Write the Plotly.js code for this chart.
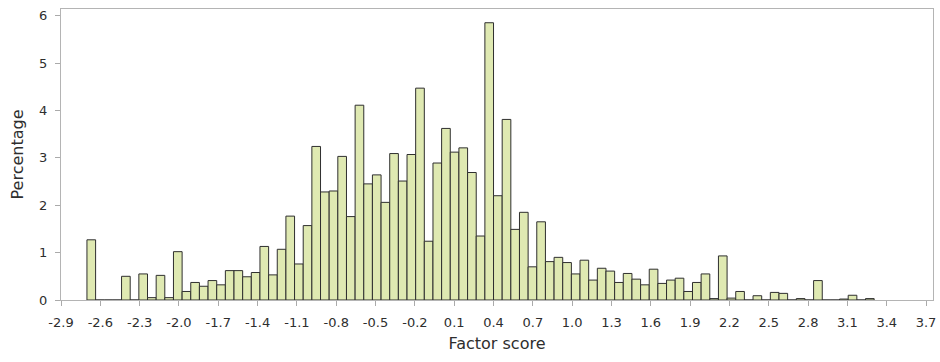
<!DOCTYPE html>
<html>
<head>
<meta charset="utf-8">
<script src="https://cdn.plot.ly/plotly-3.0.1.min.js"></script>
<style>html,body{margin:0;padding:0;background:#fff;}#chart{width:940px;height:362px;}</style>
</head>
<body>
<div id="chart"></div>
<script>
// Bin midpoints (factor score)
const binMid = [
 -2.669,-2.603,-2.537,-2.471,-2.405,-2.339,-2.273,-2.207,-2.141,-2.075,
 -2.009,-1.943,-1.877,-1.811,-1.745,-1.679,-1.613,-1.547,-1.481,-1.415,
 -1.349,-1.283,-1.217,-1.151,-1.085,-1.019,-0.953,-0.887,-0.821,-0.755,
 -0.689,-0.623,-0.557,-0.491,-0.425,-0.359,-0.293,-0.227,-0.161,-0.095,
 -0.029,0.037,0.103,0.169,0.235,0.301,0.367,0.433,0.499,0.565,
 0.631,0.697,0.763,0.829,0.895,0.961,1.027,1.093,1.159,1.225,
 1.291,1.357,1.423,1.489,1.555,1.621,1.687,1.753,1.819,1.885,
 1.951,2.017,2.083,2.149,2.215,2.281,2.347,2.413,2.479,2.545,
 2.611,2.677,2.743,2.809,2.875,2.941,3.007,3.073,3.139,3.205,
 3.271
];
// Percentage per bin
const percentage = [
 1.27,0,0,0,0.50,0,0.55,0.05,0.52,0.05,
 1.02,0.18,0.37,0.29,0.41,0.32,0.62,0.62,0.49,0.58,
 1.13,0.53,1.07,1.77,0.76,1.57,3.24,2.28,2.30,3.03,
 1.76,4.11,2.45,2.64,2.06,3.09,2.51,3.07,4.47,1.24,
 2.89,3.62,3.12,3.21,2.69,1.35,5.85,2.20,3.81,1.49,
 1.85,0.70,1.65,0.81,0.90,0.79,0.55,0.84,0.42,0.67,
 0.61,0.37,0.56,0.44,0.32,0.65,0.35,0.42,0.46,0.18,
 0.37,0.55,0.03,0.93,0.04,0.18,0,0.09,0,0.16,
 0.14,0,0.03,0,0.41,0,0,0.02,0.10,0,
 0.03
];
const binWidth = 0.066;
const xTickVals = [-2.9,-2.6,-2.3,-2.0,-1.7,-1.4,-1.1,-0.8,-0.5,-0.2,0.1,0.4,0.7,1.0,1.3,1.6,1.9,2.2,2.5,2.8,3.1,3.4,3.7];
const xTickText = ["-2.9","-2.6","-2.3","-2.0","-1.7","-1.4","-1.1","-0.8","-0.5","-0.2","0.1","0.4","0.7","1.0","1.3","1.6","1.9","2.2","2.5","2.8","3.1","3.4","3.7"];
const yTickVals = [0,1,2,3,4,5,6];
const yTickText = ["0","1","2","3","4","5","6"];

const trace = {
  type: 'bar',
  x: binMid,
  y: percentage,
  width: binMid.map(() => binWidth),
  marker: {color: '#dfe9b2', line: {color: '#2f2f2f', width: 1}},
  hoverinfo: 'x+y'
};

const txt = '#2e2e2e';
const layout = {
  width: 940, height: 362,
  margin: {l: 61, r: 7, t: 9, b: 62},
  paper_bgcolor: '#ffffff',
  plot_bgcolor: '#ffffff',
  showlegend: false,
  bargap: 0,
  font: {family: '"DejaVu Sans", "Liberation Sans", sans-serif', size: 13, color: txt},
  xaxis: {
    range: [-2.9, 3.753],
    tickvals: xTickVals, ticktext: xTickText,
    ticks: 'outside', ticklen: 5, tickcolor: '#aaaaaa', tickwidth: 1,
    ticklabelstandoff: 5,
    showline: true, mirror: true, linecolor: '#b4b4b4', linewidth: 1,
    showgrid: false, zeroline: false,
    tickfont: {size: 13, color: txt},
    title: {text: 'Factor score', font: {size: 16, color: txt}, standoff: 9}
  },
  yaxis: {
    range: [0, 6.14],
    tickvals: yTickVals, ticktext: yTickText,
    ticks: 'outside', ticklen: 5, tickcolor: '#aaaaaa', tickwidth: 1,
    ticklabelstandoff: 5,
    showline: true, mirror: true, linecolor: '#b4b4b4', linewidth: 1,
    showgrid: false, zeroline: false,
    tickfont: {size: 13, color: txt},
    title: {text: 'Percentage', font: {size: 16, color: txt}, standoff: 11}
  }
};

Plotly.newPlot('chart', [trace], layout, {displayModeBar: false, staticPlot: true});
</script>
</body>
</html>
